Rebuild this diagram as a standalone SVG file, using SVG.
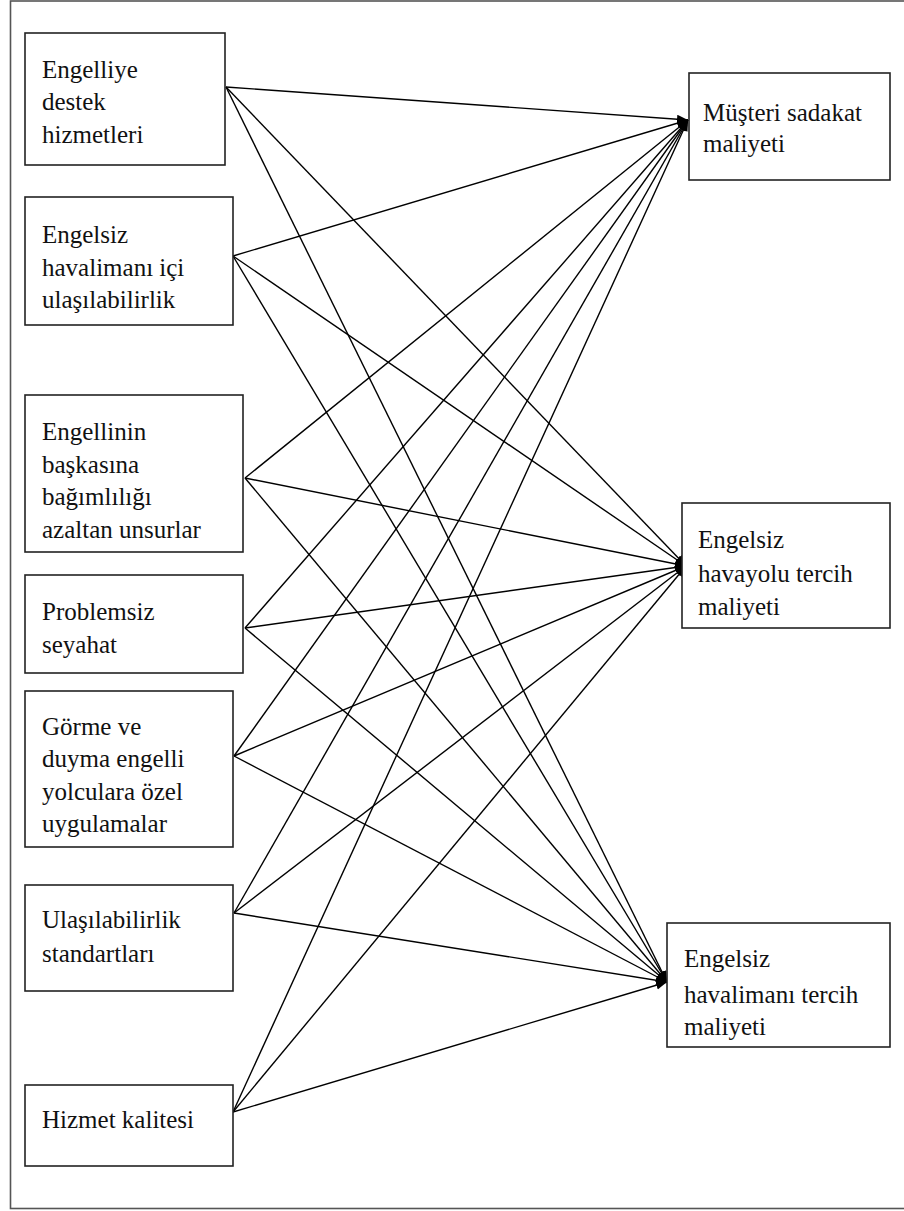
<svg xmlns="http://www.w3.org/2000/svg" width="904" height="1211" viewBox="0 0 904 1211">
<defs>
<style>
.box{fill:#fff;stroke:#222;stroke-width:1.6}
.frame{fill:#fff;stroke:#555;stroke-width:1.6}
.t{font-family:"Liberation Serif","Times New Roman",serif;font-size:25px;fill:#111}
.c{stroke:#000;stroke-width:1.4;fill:none;marker-end:url(#ah)}
</style>
<marker id="ah" markerUnits="userSpaceOnUse" markerWidth="12" markerHeight="10" refX="11" refY="4.5" orient="auto">
<path d="M0,0 L11,4.5 L0,9 z" fill="#000"/>
</marker>
</defs>
<rect class="frame" x="10.5" y="1" width="910" height="1207.5"/>
<g id="connectors">
<line class="c" x1="226" y1="87" x2="688" y2="120"/>
<line class="c" x1="226" y1="87" x2="686" y2="566"/>
<line class="c" x1="226" y1="87" x2="667" y2="982"/>
<line class="c" x1="233" y1="256" x2="688" y2="120"/>
<line class="c" x1="233" y1="256" x2="686" y2="566"/>
<line class="c" x1="233" y1="256" x2="667" y2="982"/>
<line class="c" x1="245" y1="478" x2="688" y2="120"/>
<line class="c" x1="245" y1="478" x2="686" y2="566"/>
<line class="c" x1="245" y1="478" x2="667" y2="982"/>
<line class="c" x1="245" y1="628" x2="688" y2="120"/>
<line class="c" x1="245" y1="628" x2="686" y2="566"/>
<line class="c" x1="245" y1="628" x2="667" y2="982"/>
<line class="c" x1="234" y1="756" x2="688" y2="120"/>
<line class="c" x1="234" y1="756" x2="686" y2="566"/>
<line class="c" x1="234" y1="756" x2="667" y2="982"/>
<line class="c" x1="234" y1="913" x2="688" y2="120"/>
<line class="c" x1="234" y1="913" x2="686" y2="566"/>
<line class="c" x1="234" y1="913" x2="667" y2="982"/>
<line class="c" x1="233" y1="1112" x2="688" y2="120"/>
<line class="c" x1="233" y1="1112" x2="686" y2="566"/>
<line class="c" x1="233" y1="1112" x2="667" y2="982"/>
</g>
<g id="n1">
<rect class="box" x="25" y="33" width="200" height="132"/>
<text class="t" x="42" y="78">Engelliye</text>
<text class="t" x="42" y="110">destek</text>
<text class="t" x="42" y="143">hizmetleri</text>
</g>
<g id="n2">
<rect class="box" x="25" y="197" width="208" height="128"/>
<text class="t" x="42" y="243">Engelsiz</text>
<text class="t" x="42" y="276">havalimanı içi</text>
<text class="t" x="42" y="308">ulaşılabilirlik</text>
</g>
<g id="n3">
<rect class="box" x="25" y="395" width="218" height="157"/>
<text class="t" x="42" y="440">Engellinin</text>
<text class="t" x="42" y="473">başkasına</text>
<text class="t" x="42" y="505">bağımlılığı</text>
<text class="t" x="42" y="538">azaltan unsurlar</text>
</g>
<g id="n4">
<rect class="box" x="25" y="575" width="218" height="98"/>
<text class="t" x="42" y="620">Problemsiz</text>
<text class="t" x="42" y="653">seyahat</text>
</g>
<g id="n5">
<rect class="box" x="25" y="691" width="208" height="156"/>
<text class="t" x="42" y="735">Görme ve</text>
<text class="t" x="42" y="767">duyma engelli</text>
<text class="t" x="42" y="800">yolculara özel</text>
<text class="t" x="42" y="832">uygulamalar</text>
</g>
<g id="n6">
<rect class="box" x="25" y="885" width="208" height="106"/>
<text class="t" x="42" y="928">Ulaşılabilirlik</text>
<text class="t" x="42" y="962">standartları</text>
</g>
<g id="n7">
<rect class="box" x="25" y="1085" width="208" height="81"/>
<text class="t" x="42" y="1128">Hizmet kalitesi</text>
</g>
<g id="r1">
<rect class="box" x="689" y="73" width="201" height="107"/>
<text class="t" x="703" y="121">Müşteri sadakat</text>
<text class="t" x="703" y="152">maliyeti</text>
</g>
<g id="r2">
<rect class="box" x="682" y="503" width="208" height="125"/>
<text class="t" x="698" y="548">Engelsiz</text>
<text class="t" x="698" y="582">havayolu tercih</text>
<text class="t" x="698" y="615">maliyeti</text>
</g>
<g id="r3">
<rect class="box" x="667" y="923" width="223" height="124"/>
<text class="t" x="684" y="967">Engelsiz</text>
<text class="t" x="684" y="1003">havalimanı tercih</text>
<text class="t" x="684" y="1035">maliyeti</text>
</g>
</svg>
